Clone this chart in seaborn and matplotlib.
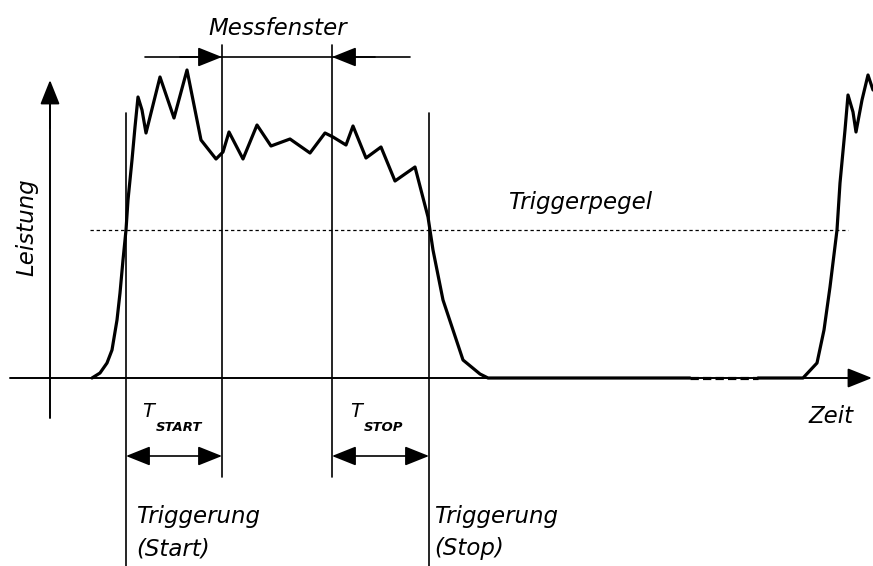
import matplotlib
matplotlib.use("Agg")
import matplotlib.pyplot as plt
from matplotlib.patches import ArrowStyle
import seaborn as sns

sns.set_theme(style="white")
plt.rcParams["font.family"] = ["DejaVu Sans"]
plt.rcParams["lines.scale_dashes"] = False

# Power envelope of the burst (time, power) in drawing units
burst_time = [92, 100, 107, 112, 117, 120, 123, 126, 128, 132, 135, 138, 142, 146,
              160, 174, 187, 201, 216, 223, 229, 243, 257, 271, 290, 310, 325, 333,
              346, 353, 366, 381, 395, 415, 428, 433, 443, 463, 480, 488, 690]
burst_power = [0, 5, 15, 28, 58, 85, 118, 148, 178, 218, 251, 281, 268, 245,
               301, 260, 308, 238, 219, 226, 246, 219, 253, 232, 239, 225, 245, 241,
               233, 252, 220, 231, 197, 211, 161, 128, 78, 18, 4, 0, 0]

# Idle period (drawn broken) and the next burst
gap_time = [690, 758]
gap_power = [0, 0]
next_time = [758, 803, 817, 824, 830, 837, 840, 845, 848, 853, 856, 862, 868, 873]
next_power = [0, 0, 15, 48, 91, 148, 195, 248, 283, 266, 246, 278, 303, 288]

# Event times and levels
t_trigger_start = 126
t_trigger_stop = 429
t_window_start = 222
t_window_stop = 332
trigger_level = 148

fig = plt.figure(figsize=(8.73, 5.66), dpi=100)
ax = fig.add_axes([0, 0, 1, 1])
ax.set_xlim(0, 873)
ax.set_ylim(-188, 378)
ax.axis("off")

ink = "black"
thin = 1.2
head = ArrowStyle("-|>", head_length=0.75, head_width=0.3)
dhead = ArrowStyle("<|-|>", head_length=0.75, head_width=0.3)

def arrow(x0, y0, x1, y1, style=head, lw=thin):
    ax.annotate("", xy=(x1, y1), xytext=(x0, y0),
                arrowprops=dict(arrowstyle=style, color=ink, lw=lw,
                                mutation_scale=20, shrinkA=0, shrinkB=0))

# Axes of the diagram
arrow(10, 0, 872, 0, lw=1.4)
ax.plot([50, 50], [-40, 290], color=ink, lw=1.4)
arrow(50, 250, 50, 298, lw=1.4)

# Trigger level
ax.plot([90, 848], [trigger_level, trigger_level], color=ink, lw=0.9,
        linestyle=(0, (2.4, 2.0)))

# Trigger and window markers
for t in (t_trigger_start, t_trigger_stop):
    ax.plot([t, t], [-188, 265], color=ink, lw=thin)
for t in (t_window_start, t_window_stop):
    ax.plot([t, t], [-99, 333], color=ink, lw=thin)

# Measurement window arrows
ax.plot([145, 410], [321, 321], color=ink, lw=thin)
arrow(180, 321, t_window_start, 321)
arrow(375, 321, t_window_stop, 321)

# Delay arrows
arrow(t_trigger_start, -78, t_window_start, -78, style=dhead)
arrow(t_window_stop, -78, t_trigger_stop, -78, style=dhead)

# Power curve
sns.lineplot(x=burst_time, y=burst_power, sort=False, estimator=None,
             color=ink, lw=2.3, ax=ax)
sns.lineplot(x=gap_time, y=gap_power, sort=False, estimator=None,
             color=ink, lw=2.3, linestyle=(0, (6, 3)), ax=ax)
sns.lineplot(x=next_time, y=next_power, sort=False, estimator=None,
             color=ink, lw=2.3, ax=ax)

# Labels
txt = dict(color=ink, fontsize=16.5, fontstyle="oblique", va="baseline")
ax.text(278, 343, "Messfenster", ha="center", **txt)
ax.text(508, 169, "Triggerpegel", ha="left", **txt)
ax.text(808, -45, "Zeit", ha="left", **txt)
ax.text(27, 151, "Leistung", ha="center", va="center", rotation=90,
        color=ink, fontsize=16.5, fontstyle="oblique")
ax.text(136, -145, "Triggerung", ha="left", **txt)
ax.text(136, -177, "(Start)", ha="left", **txt)
ax.text(434, -145, "Triggerung", ha="left", **txt)
ax.text(434, -177, "(Stop)", ha="left", **txt)

sub = dict(color=ink, fontstyle="oblique", va="baseline", ha="left")
ax.text(142, -39, "T", fontsize=14, **sub)
ax.text(156, -53, "START", fontsize=9.5, fontweight="bold", **sub)
ax.text(350, -39, "T", fontsize=14, **sub)
ax.text(364, -53, "STOP", fontsize=9.5, fontweight="bold", **sub)

fig.savefig("out.png", dpi=100)
